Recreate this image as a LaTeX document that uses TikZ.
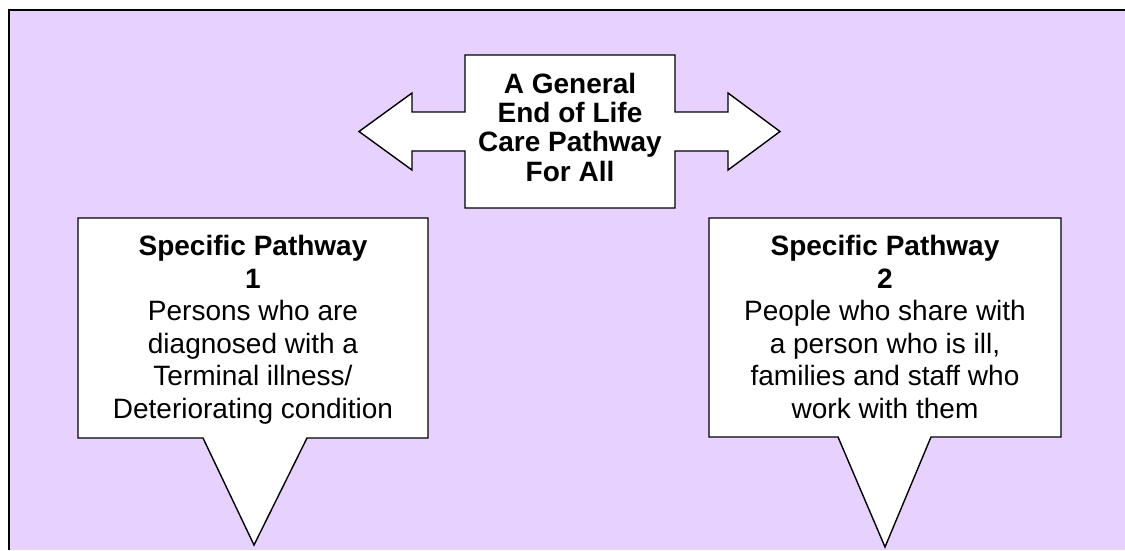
\documentclass[tikz,border=0pt]{standalone}
\usepackage{fontspec}
\setmainfont{Liberation Sans}
\definecolor{bgpurple}{RGB}{230,209,255}
\begin{document}
\begin{tikzpicture}[x=1pt,y=-1pt,
  shapeline/.style={draw=black,line width=1.4pt,fill=white,line join=miter},
  frameline/.style={draw=black,line width=2.5pt},
  bodytext/.style={align=center,inner sep=0pt,anchor=north,font=\fontsize{28}{32.6}\selectfont},
  headtext/.style={align=center,inner sep=0pt,anchor=north,font=\fontsize{28}{29.2}\selectfont\bfseries}]
\useasboundingbox (0,0) rectangle (1125,550);
% background
\fill[bgpurple] (9,10) rectangle (1125,550);
\draw[frameline] (9,550) -- (9,10) -- (1125,10);
% central double arrow
\draw[shapeline] (465,55) -- (675,55) -- (675,112) -- (728,112) -- (728,93) -- (780,131.5)
  -- (728,170) -- (728,151) -- (675,151) -- (675,208) -- (465,208) -- (465,151)
  -- (412,151) -- (412,170) -- (359,131.5) -- (412,93) -- (412,112) -- (465,112) -- cycle;
\node[headtext] (general) at (570,73) {A General\\End of Life\\Care Pathway\\For All};
% callout 1
\draw[shapeline] (78,218) -- (428,218) -- (428,438) -- (307,438) -- (254,545) -- (203,438) -- (78,438) -- cycle;
\node[bodytext] (path1) at (253,235) {\textbf{Specific Pathway}\\\textbf{1}\\Persons who are\\diagnosed with a\\Terminal illness/\\Deteriorating condition};
% callout 2
\draw[shapeline] (709,218) -- (1061,218) -- (1061,437) -- (931,437) -- (885,547) -- (838,437) -- (709,437) -- cycle;
\node[bodytext] (path2) at (885,235) {\textbf{Specific Pathway}\\\textbf{2}\\People who share with\\a person who is ill,\\families and staff who\\work with them};
\end{tikzpicture}
\end{document}
